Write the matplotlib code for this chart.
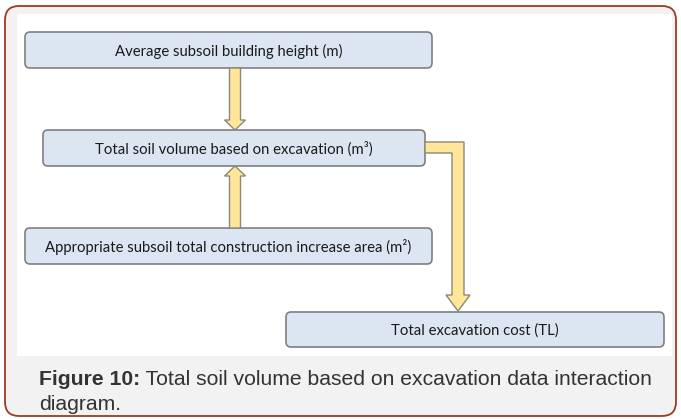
import matplotlib.pyplot as plt
from matplotlib.patches import FancyBboxPatch, Polygon

# node labels of the flow diagram
labels = ['Average subsoil building height (m)',
          'Total soil volume based on excavation (m³)',
          'Appropriate subsoil total construction increase area (m²)',
          'Total excavation cost (TL)']
caption_bold = 'Figure 10:'
caption_line1 = ' Total soil volume based on excavation data interaction'
caption_line2 = 'diagram.'

# layout in pixel coordinates (x0, y0, x1, y1)
boxes = [(25, 32, 432, 68), (43, 130, 425, 166), (25, 228, 432, 264), (286, 312, 664, 347)]

BOX_FILL = '#dce6f2'
BOX_EDGE = '#7f7f7f'
ARR_FILL = '#ffe699'
ARR_EDGE = '#8a8a78'

fig = plt.figure(figsize=(6.81, 4.19), dpi=100)
ax = fig.add_axes([0, 0, 1, 1])
ax.set_xlim(0, 681)
ax.set_ylim(419, 0)
ax.axis('off')

# outer frame, grey background and white panel
ax.add_patch(FancyBboxPatch((5, 6), 671, 410, boxstyle='round,pad=0,rounding_size=14',
                            fc='#f2f2f2', ec='#9b3b24', lw=1.3))
ax.add_patch(plt.Rectangle((17, 14), 655, 342, fc='white', ec='none'))

for (x0, y0, x1, y1), lab in zip(boxes, labels):
    ax.add_patch(FancyBboxPatch((x0, y0), x1 - x0, y1 - y0,
                                boxstyle='round,pad=0,rounding_size=5',
                                fc=BOX_FILL, ec=BOX_EDGE, lw=1.2))
    ax.text((x0 + x1) / 2, (y0 + y1) / 2 + 1, lab, ha='center', va='center',
            fontsize=10.7, color='#1a1a1a', family=['Lato', 'DejaVu Sans'])


def vert_arrow(xc, y_start, y_tip, shaft=11, head=21, hlen=10):
    d = 1 if y_tip > y_start else -1
    yb = y_tip - d * hlen
    pts = [(xc - shaft / 2, y_start), (xc + shaft / 2, y_start), (xc + shaft / 2, yb),
           (xc + head / 2, yb), (xc, y_tip), (xc - head / 2, yb), (xc - shaft / 2, yb)]
    ax.add_patch(Polygon(pts, closed=True, fc=ARR_FILL, ec=ARR_EDGE, lw=1.0))


vert_arrow(235, 68, 130)
vert_arrow(235, 228, 166)

# elbow arrow from box 2 to box 4
xs0, xs1 = 452, 464
yh0, yh1 = 142, 153
yb = 295
pts = [(425, yh0), (xs1, yh0), (xs1, yb), (470, yb), (458, 311), (446, yb),
       (xs0, yb), (xs0, yh1), (425, yh1)]
ax.add_patch(Polygon(pts, closed=True, fc=ARR_FILL, ec=ARR_EDGE, lw=1.0))

# caption
cap = dict(fontsize=15.2, color='#333333', family='Liberation Sans', va='baseline')
t = ax.text(39, 385, caption_bold, fontweight='bold', **cap)
fig.canvas.draw()
bb = t.get_window_extent()
x_end = ax.transData.inverted().transform((bb.x1, bb.y0))[0]
ax.text(x_end, 385, caption_line1, **cap)
ax.text(39, 410, caption_line2, **cap)

fig.savefig('out.png', dpi=100)
